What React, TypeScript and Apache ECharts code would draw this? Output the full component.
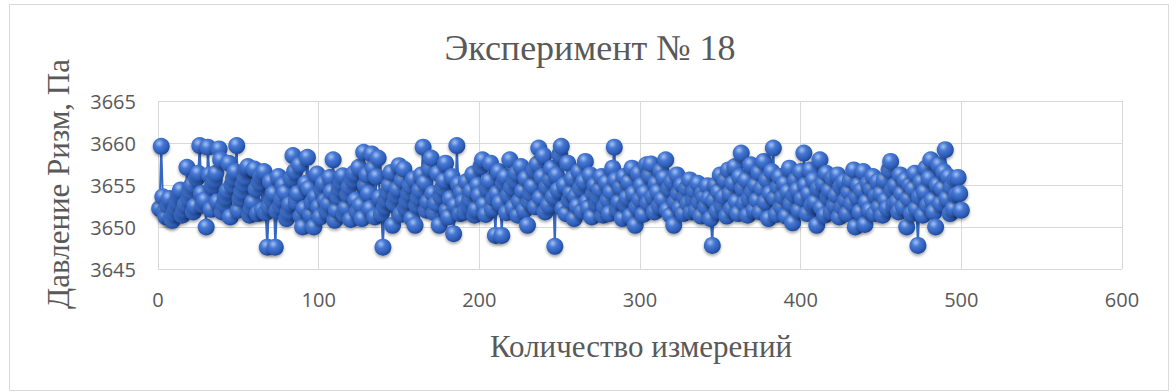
import React, { useEffect, useRef } from "react";
import * as echarts from "echarts";

const titleText = "Эксперимент № 18";
const xAxisName = "Количество измерений";
const yAxisName = "Давление Ризм, Па";

const xTicks = [0, 100, 200, 300, 400, 500, 600];
const yTicks = [3645, 3650, 3655, 3660, 3665];

const pressure: number[] = [
  3652.2, 3659.6, 3653.6, 3651.8, 3651.2, 3652.6, 3653.4, 3651.0, 3650.8, 3651.6,
  3652.3, 3653.0, 3653.8, 3654.4, 3651.4, 3652.0, 3652.7, 3657.1, 3653.4, 3654.2,
  3655.0, 3651.8, 3652.5, 3655.8, 3656.4, 3659.7, 3654.0, 3652.6, 3653.2, 3650.0,
  3659.5, 3656.2, 3652.1, 3654.9, 3655.6, 3656.4, 3653.0, 3659.3, 3658.0, 3651.8,
  3652.7, 3653.5, 3654.3, 3657.6, 3651.2, 3655.0, 3655.8, 3656.6, 3659.7, 3652.0,
  3653.4, 3654.2, 3655.1, 3655.9, 3656.8, 3657.2, 3651.4, 3652.2, 3653.0, 3656.9,
  3654.5, 3651.6, 3655.3, 3656.1, 3652.0, 3656.6, 3651.7, 3647.6, 3652.4, 3655.4,
  3653.2, 3654.0, 3647.6, 3651.9, 3656.0, 3652.5, 3653.3, 3655.0, 3654.1, 3651.0,
  3651.8, 3652.7, 3655.8, 3658.5, 3656.6, 3653.0, 3654.0, 3657.4, 3651.3, 3650.0,
  3652.2, 3655.2, 3658.3, 3654.6, 3651.5, 3652.9, 3650.0, 3653.6, 3656.3, 3652.4,
  3651.2, 3654.4, 3655.2, 3653.1, 3651.9, 3652.8, 3655.9, 3654.2, 3658.0, 3650.8,
  3652.0, 3653.6, 3654.5, 3655.3, 3656.1, 3651.5, 3652.3, 3653.9, 3654.8, 3650.9,
  3655.6, 3656.4, 3653.2, 3651.8, 3657.1, 3652.6, 3651.0, 3658.9, 3655.0, 3656.2,
  3654.0, 3652.2, 3658.7, 3657.0, 3651.2, 3656.0, 3658.2, 3653.5, 3651.6, 3647.6,
  3652.4, 3653.2, 3654.1, 3655.0, 3656.5, 3650.2, 3652.8, 3653.7, 3654.5, 3657.3,
  3651.5, 3655.6, 3656.9, 3652.3, 3653.1, 3654.0, 3654.9, 3651.0, 3655.7, 3650.2,
  3652.6, 3653.5, 3654.4, 3656.2, 3659.5, 3655.3, 3652.0, 3653.0, 3657.0, 3658.2,
  3654.0, 3651.7, 3652.8, 3656.4, 3650.2, 3653.7, 3654.6, 3655.5, 3657.6, 3652.0,
  3651.2, 3653.4, 3656.0, 3649.2, 3652.6, 3659.7, 3655.1, 3651.6, 3654.2, 3653.0,
  3651.8, 3655.4, 3652.5, 3653.3, 3654.3, 3656.3, 3651.4, 3652.1, 3655.0, 3653.8,
  3657.2, 3658.0, 3652.7, 3651.5, 3654.6, 3655.5, 3657.6, 3652.2, 3653.4, 3649.0,
  3654.0, 3656.6, 3652.9, 3649.0, 3655.2, 3656.0, 3651.7, 3653.8, 3658.0, 3654.7,
  3652.3, 3655.5, 3656.4, 3651.4, 3653.1, 3657.2, 3654.3, 3652.0, 3655.8, 3650.2,
  3653.0, 3654.0, 3654.9, 3656.8, 3652.4, 3657.5, 3659.4, 3653.5, 3656.0, 3658.5,
  3651.8, 3654.8, 3652.6, 3655.7, 3657.0, 3653.6, 3647.7, 3656.2, 3654.4, 3658.6,
  3659.6, 3652.2, 3655.0, 3651.6, 3657.6, 3653.2, 3654.1, 3655.8, 3651.0, 3653.7,
  3652.5, 3656.6, 3654.6, 3651.9, 3655.4, 3657.8, 3653.0, 3652.3, 3656.2, 3651.2,
  3654.0, 3655.0, 3652.8, 3653.6, 3654.5, 3656.0, 3651.4, 3652.4, 3655.3, 3653.2,
  3651.6, 3654.2, 3657.0, 3659.5, 3655.6, 3652.1, 3653.0, 3654.8, 3651.0, 3656.0,
  3652.7, 3653.5, 3655.4, 3651.3, 3657.0, 3654.0, 3650.2, 3652.4, 3656.4, 3653.3,
  3655.0, 3651.5, 3654.1, 3657.4, 3652.9, 3656.2, 3657.5, 3653.6, 3651.8, 3655.2,
  3654.2, 3652.5, 3656.7, 3653.3, 3655.9, 3658.0, 3652.0, 3654.6, 3651.4, 3655.4,
  3650.2, 3653.0, 3656.2, 3654.0, 3652.3, 3655.0, 3651.6, 3653.6, 3654.6, 3652.8,
  3655.6, 3651.8, 3653.3, 3654.3, 3652.0, 3655.2, 3653.0, 3651.3, 3654.0, 3653.6,
  3652.4, 3654.9, 3653.4, 3651.0, 3647.8, 3653.2, 3655.0, 3651.9, 3654.2, 3656.2,
  3652.6, 3653.6, 3655.6, 3651.3, 3656.8, 3654.0, 3652.2, 3655.2, 3657.2, 3653.0,
  3651.6, 3656.0, 3658.8, 3654.6, 3652.8, 3655.6, 3651.4, 3653.4, 3657.4, 3654.2,
  3652.0, 3655.0, 3653.2, 3656.5, 3651.8, 3654.6, 3657.8, 3653.0, 3655.6, 3651.0,
  3654.0, 3656.6, 3659.4, 3653.5, 3651.5, 3654.8, 3656.0, 3652.4, 3653.6, 3655.2,
  3651.3, 3654.2, 3657.0, 3652.8, 3650.5, 3653.8, 3655.6, 3654.4, 3652.0, 3656.6,
  3653.4, 3658.8, 3655.0, 3651.6, 3654.0, 3656.8, 3652.6, 3655.6, 3653.0, 3650.2,
  3654.6, 3658.0, 3652.3, 3655.2, 3651.4, 3656.4, 3653.6, 3654.4, 3651.8, 3655.8,
  3652.6, 3653.8, 3656.2, 3651.2, 3654.8, 3652.4, 3655.4, 3653.2, 3651.6, 3654.2,
  3655.6, 3652.8, 3656.8, 3650.0, 3653.6, 3655.0, 3651.8, 3654.4, 3656.6, 3650.3,
  3653.0, 3655.2, 3652.0, 3654.6, 3656.0, 3651.6, 3653.8, 3655.4, 3652.4, 3654.0,
  3651.4, 3655.6, 3653.2, 3652.2, 3656.8, 3657.8, 3654.4, 3652.6, 3655.0, 3653.0,
  3651.8, 3656.2, 3654.0, 3652.4, 3655.6, 3650.0, 3653.4, 3655.0, 3651.6, 3654.6,
  3656.4, 3652.2, 3647.8, 3653.6, 3655.4, 3651.4, 3654.2, 3657.0, 3652.6, 3655.8,
  3658.0, 3653.2, 3651.8, 3650.0, 3655.0, 3657.4, 3652.8, 3654.6, 3656.6, 3659.2,
  3653.4, 3656.0, 3651.6, 3654.8, 3652.2, 3655.6, 3653.8, 3655.9, 3654.0, 3652.0,
];

const measurementIndex: number[] = pressure.map((_, i) => i + 1);

export default function App() {
  const ref = useRef<HTMLDivElement>(null);

  useEffect(() => {
    if (!ref.current) return;
    const chart = echarts.init(ref.current, undefined, { renderer: "svg" });
    const labelFont = "'Open Sans', 'Liberation Sans', sans-serif";
    const serif = "'Liberation Serif', 'DejaVu Serif', serif";
    const grey = "#595959";
    const gridColor = "#d9d9d9";

    const ball = new echarts.graphic.RadialGradient(0.38, 0.32, 0.72, [
      { offset: 0, color: "#a4c2f3" },
      { offset: 0.35, color: "#4678d4" },
      { offset: 0.8, color: "#2a59b2" },
      { offset: 1, color: "#1b428c" },
    ]);

    chart.setOption({
      animation: false,
      backgroundColor: "#ffffff",
      grid: { left: 158, right: 54, top: 101, height: 168, containLabel: false },
      xAxis: {
        type: "value",
        min: xTicks[0],
        max: xTicks[xTicks.length - 1],
        interval: 100,
        axisLine: { show: false },
        axisTick: { show: false },
        splitLine: { show: true, lineStyle: { color: gridColor, width: 1 } },
        axisLabel: {
          color: grey,
          fontSize: 20,
          fontFamily: labelFont,
          margin: 20,
          formatter: (v: number) => String(v),
        },
      },
      yAxis: {
        type: "value",
        min: yTicks[0],
        max: yTicks[yTicks.length - 1],
        interval: 5,
        axisLine: { show: false },
        axisTick: { show: false },
        splitLine: { show: true, lineStyle: { color: gridColor, width: 1 } },
        axisLabel: {
          color: grey,
          fontSize: 20,
          fontFamily: labelFont,
          margin: 22,
          formatter: (v: number) => String(v),
        },
      },
      graphic: [
        {
          type: "rect",
          shape: { x: 9.5, y: 4.5, width: 1159, height: 386 },
          style: { fill: "none", stroke: gridColor, lineWidth: 1 },
          silent: true,
          z: -1,
        },
        {
          type: "text",
          x: 590,
          y: 48,
          style: {
            text: titleText,
            font: `36px ${serif}`,
            fill: grey,
            textAlign: "center",
            textVerticalAlign: "middle",
          },
        },
        {
          type: "text",
          x: 641,
          y: 346,
          style: {
            text: xAxisName,
            font: `31px ${serif}`,
            fill: grey,
            textAlign: "center",
            textVerticalAlign: "middle",
          },
        },
        {
          type: "text",
          x: 58,
          y: 184,
          rotation: Math.PI / 2,
          style: {
            text: yAxisName,
            font: `31px ${serif}`,
            fill: grey,
            textAlign: "center",
            textVerticalAlign: "middle",
          },
        },
      ],
      series: [
        {
          type: "line",
          data: measurementIndex.map((x, i) => [x, pressure[i]]),
          symbol: "circle",
          symbolSize: 17,
          showSymbol: true,
          showAllSymbol: true,
          lineStyle: { color: "#3567c4", width: 2 },
          itemStyle: {
            color: ball,
            shadowBlur: 3,
            shadowColor: "rgba(0,0,0,0.35)",
            shadowOffsetY: 2,
          },
          emphasis: { disabled: true },
        },
      ],
    });

    return () => chart.dispose();
  }, []);

  return (
    <div
      ref={ref}
      style={{ position: "absolute", left: 0, top: 0, width: 1176, height: 392 }}
    />
  );
}
